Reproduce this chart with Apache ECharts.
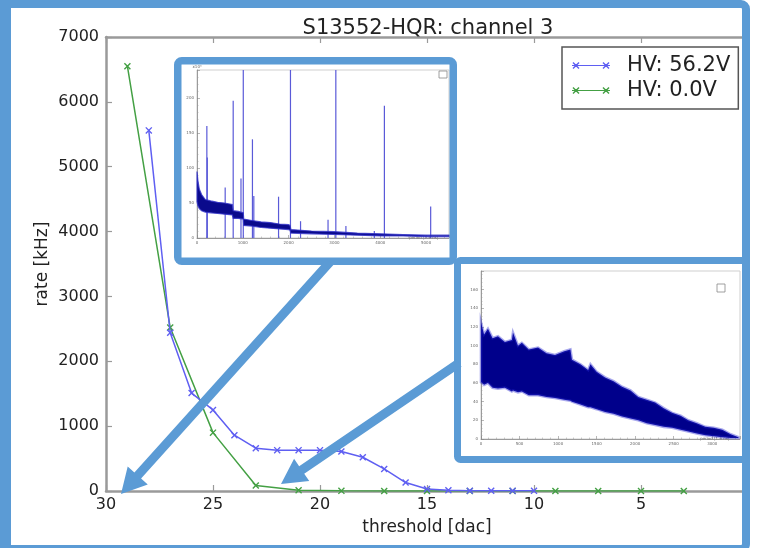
<!DOCTYPE html>
<html>
<head>
<meta charset="utf-8">
<script src="https://cdn.jsdelivr.net/npm/echarts@6/dist/echarts.min.js"></script>
<style>
  html, body { margin: 0; padding: 0; background: #fff; }
  #chart { width: 757px; height: 548px; }
</style>
</head>
<body>
<div id="chart"></div>
<script>
// ---- Threshold scan (rate vs threshold) ----
const thresholdHV = [28, 27, 26, 25, 24, 23, 22, 21, 20, 19, 18, 17, 16, 15, 14, 13, 12, 11, 10];
const rateHV      = [5560, 2440, 1510, 1250, 860, 660, 630, 630, 630, 610, 520, 340, 130, 30, 10, 5, 3, 2, 2];
const thresholdNoHV = [29, 27, 25, 23, 21, 19, 17, 15, 13, 11, 9, 7, 5, 3];
const rateNoHV      = [6550, 2520, 900, 85, 10, 2, 1, 0, 0, 0, 0, 0, 0, 0];
const thresholdTicks = [30, 25, 20, 15, 10, 5];
const rateTicks = [0, 1000, 2000, 3000, 4000, 5000, 6000, 7000];

// ---- Period histogram, HV on (upper inset) ----
const periodA = [0, 20, 50, 100, 180, 300, 450, 600, 770, 790, 900, 1010, 1020, 1200, 1400, 1600, 1800, 2000, 2030, 2050, 2500, 3000, 3500, 4000, 4500, 5000, 5500];
const upperA  = [95, 82, 70, 62, 55, 53, 51, 50, 48, 39, 38, 36, 27, 25, 23, 22, 20, 19, 18, 12, 10, 9, 7, 6, 5, 4, 4];
const lowerA  = [52, 46, 42, 39, 37, 36, 35, 34, 33, 28, 28, 27, 18, 17, 15, 14, 13, 12, 11, 7, 6, 5, 4, 3, 3, 2, 2];
const spikePosA = [215, 225, 615, 790, 960, 1010, 1210, 1240, 1780, 2040, 2260, 2860, 3030, 3250, 3870, 4090, 5100];
const spikeTopA = [160, 115, 72, 196, 85, 260, 141, 60, 59, 260, 24, 26, 260, 17, 10, 189, 45];

// ---- Period histogram, HV off (lower inset) ----
const periodB = [0, 40, 90, 150, 220, 310, 400, 415, 480, 530, 620, 740, 850, 960, 1080, 1160, 1180, 1290, 1390, 1420, 1500, 1610, 1720, 1830, 1940, 2040, 2150, 2260, 2370, 2480, 2590, 2690, 2800, 2910, 3020, 3130, 3240, 3340];
const upperB  = [125, 112, 118, 108, 110, 104, 106, 114, 100, 103, 96, 98, 92, 90, 94, 96, 85, 80, 74, 80, 72, 66, 62, 56, 52, 45, 42, 39, 33, 28, 25, 20, 17, 13, 12, 10, 5, 2];
const lowerB  = [61, 58, 60, 55, 54, 55, 51, 52, 50, 51, 47, 47, 45, 44, 42, 41, 40, 37, 34, 34, 32, 29, 27, 24, 22, 20, 17, 15, 13, 12, 10, 8, 6, 4, 3, 2, 1, 1];

const FONT = 'DejaVu Sans';
const FRAME = '#5b9bd5';
const BLUE = '#5f5ff2';
const GREEN = '#44a044';
const CROSS = 'path://M0,1.4L1.4,0L10,8.6L8.6,10ZM0,8.6L8.6,0L10,1.4L1.4,10Z';
const LEGEND_ICON = 'path://M0,4.4H38V5.6H0Z' +
  'M0.5,2.5L1.5,1.5L7.5,7.5L6.5,8.5Z M0.5,7.5L6.5,1.5L7.5,2.5L1.5,8.5Z' +
  'M30.5,2.5L31.5,1.5L37.5,7.5L36.5,8.5Z M30.5,7.5L36.5,1.5L37.5,2.5L31.5,8.5Z';

const zip = (a, b) => a.map((v, i) => [v, b[i]]);
const plain = v => String(v);

// filled band between an upper and a lower envelope, drawn in the series' own axes
function bandRenderer(xs, hi, lo, fill, stroke, strokeWidth) {
  return function (params, api) {
    if (params.dataIndex !== 0) return;
    const pts = [];
    for (let i = 0; i < xs.length; i++) pts.push(api.coord([xs[i], hi[i]]));
    for (let i = xs.length - 1; i >= 0; i--) pts.push(api.coord([xs[i], lo[i]]));
    return { type: 'polygon', shape: { points: pts }, style: { fill: fill, stroke: stroke, lineWidth: strokeWidth } };
  };
}

function arrowPoints(x1, y1, x2, y2, shaft, headLen, headW) {
  const dx = x2 - x1, dy = y2 - y1, L = Math.hypot(dx, dy);
  const ux = dx / L, uy = dy / L, nx = -uy, ny = ux;
  const bx = x2 - ux * headLen, by = y2 - uy * headLen;
  return [
    [x1 + nx * shaft / 2, y1 + ny * shaft / 2],
    [bx + nx * shaft / 2, by + ny * shaft / 2],
    [bx + nx * headW / 2, by + ny * headW / 2],
    [x2, y2],
    [bx - nx * headW / 2, by - ny * headW / 2],
    [bx - nx * shaft / 2, by - ny * shaft / 2],
    [x1 - nx * shaft / 2, y1 - ny * shaft / 2]
  ];
}

const mainAxisLine = { show: true, onZero: false, lineStyle: { color: '#9a9a9a', width: 2.5 } };
const mainTick = { show: true, inside: true, length: 6, lineStyle: { color: '#9a9a9a', width: 1.2 } };
const tinyLabel = { fontSize: 4, color: '#666', fontFamily: FONT, margin: 3, formatter: plain };
const tinyLine = { show: true, onZero: false, lineStyle: { color: '#888', width: 0.8 } };
const tinyTick = { show: true, inside: true, length: 3, lineStyle: { color: '#888', width: 0.6 } };
const tinyMinor = { show: true, splitNumber: 5, length: 1.5, lineStyle: { color: '#999', width: 0.5 } };

const chart = echarts.init(document.getElementById('chart'), null, { renderer: 'canvas' });

const option = {
  backgroundColor: '#ffffff',
  animation: false,
  title: {
    text: 'S13552-HQR: channel 3',
    left: 423, top: 13, textAlign: 'center',
    textStyle: { fontFamily: FONT, fontSize: 21, fontWeight: 'normal', color: '#222' }
  },
  legend: {
    left: 562, top: 47, orient: 'vertical',
    padding: [8, 8, 8, 10], itemGap: 4,
    itemWidth: 38, itemHeight: 10,
    borderColor: '#555', borderWidth: 1.5, backgroundColor: '#fff',
    icon: LEGEND_ICON,
    textStyle: { fontFamily: FONT, fontSize: 21, color: '#222', padding: [0, 0, 0, 12] },
    data: ['HV: 56.2V', 'HV: 0.0V']
  },
  grid: [
    { left: 106, top: 37, right: 9, bottom: 57 },
    { left: 197, top: 70, right: 308, bottom: 310, show: true, borderColor: '#cfcfcf', borderWidth: 1 },
    { left: 481, top: 271, right: 17, bottom: 109, show: true, borderColor: '#cfcfcf', borderWidth: 1 }
  ],
  xAxis: [
    {
      gridIndex: 0, type: 'value', position: 'bottom', inverse: true,
      min: 0, max: thresholdTicks[0], interval: thresholdTicks[0] - thresholdTicks[1],
      name: 'threshold [dac]', nameLocation: 'middle', nameGap: 28,
      nameTextStyle: { fontFamily: FONT, fontSize: 17, color: '#222' },
      axisLine: mainAxisLine, axisTick: mainTick, splitLine: { show: false },
      axisLabel: { fontFamily: FONT, fontSize: 16, color: '#222', margin: 6, showMinLabel: false, formatter: plain }
    },
    {
      gridIndex: 0, type: 'value', position: 'top', inverse: true,
      min: 0, max: thresholdTicks[0], interval: thresholdTicks[0] - thresholdTicks[1],
      axisLine: mainAxisLine, axisTick: mainTick, splitLine: { show: false },
      axisLabel: { show: false }
    },
    {
      gridIndex: 1, type: 'value', min: 0, max: 5500, interval: 1000,
      name: 'period [1.6 ns]', nameLocation: 'end', nameGap: -40,
      nameTextStyle: { fontSize: 4, color: '#666', fontFamily: FONT, padding: [12, 0, 0, 0] },
      axisLine: tinyLine, axisTick: tinyTick, minorTick: tinyMinor,
      splitLine: { show: false }, axisLabel: Object.assign({ showMaxLabel: false }, tinyLabel)
    },
    {
      gridIndex: 2, type: 'value', min: 0, max: 3360, interval: 500,
      name: 'period [1.6 ns]', nameLocation: 'end', nameGap: -40,
      nameTextStyle: { fontSize: 4, color: '#666', fontFamily: FONT, padding: [12, 0, 0, 0] },
      axisLine: tinyLine, axisTick: tinyTick, minorTick: tinyMinor,
      splitLine: { show: false }, axisLabel: Object.assign({ showMaxLabel: false }, tinyLabel)
    }
  ],
  yAxis: [
    {
      gridIndex: 0, type: 'value', min: rateTicks[0], max: rateTicks[rateTicks.length - 1],
      interval: rateTicks[1] - rateTicks[0],
      name: 'rate [kHz]', nameLocation: 'middle', nameGap: 55, nameMoveOverlap: false,
      nameTextStyle: { fontFamily: FONT, fontSize: 17, color: '#222' },
      axisLine: mainAxisLine, axisTick: mainTick, splitLine: { show: false },
      axisLabel: { fontFamily: FONT, fontSize: 16, color: '#222', margin: 7, formatter: plain }
    },
    {
      gridIndex: 1, type: 'value', min: 0, max: 240, interval: 50,
      name: 'x10³', nameLocation: 'end', nameGap: 1,
      nameTextStyle: { fontSize: 4, color: '#666', fontFamily: FONT },
      axisLine: tinyLine, axisTick: tinyTick, minorTick: tinyMinor,
      splitLine: { show: false }, axisLabel: Object.assign({ showMaxLabel: false }, tinyLabel)
    },
    {
      gridIndex: 2, type: 'value', min: 0, max: 180, interval: 20,
      axisLine: tinyLine, axisTick: tinyTick, minorTick: tinyMinor,
      splitLine: { show: false }, axisLabel: Object.assign({ showMaxLabel: false }, tinyLabel)
    }
  ],
  series: [
    {
      name: 'HV: 56.2V', type: 'line', xAxisIndex: 0, yAxisIndex: 0,
      data: zip(thresholdHV, rateHV),
      symbol: CROSS, symbolSize: 7,
      lineStyle: { color: BLUE, width: 1.5 }, itemStyle: { color: BLUE },
      z: 3
    },
    {
      name: 'HV: 0.0V', type: 'line', xAxisIndex: 0, yAxisIndex: 0,
      data: zip(thresholdNoHV, rateNoHV),
      symbol: CROSS, symbolSize: 7,
      lineStyle: { color: GREEN, width: 1.5 }, itemStyle: { color: GREEN },
      z: 2
    },
    {
      type: 'custom', xAxisIndex: 2, yAxisIndex: 1,
      data: [[periodA[0], lowerA[0]]],
      renderItem: bandRenderer(periodA, upperA, lowerA, '#0a0a8c', 'rgba(50,50,200,0.8)', 1.2),
      silent: true, z: 3
    },
    {
      type: 'bar', xAxisIndex: 2, yAxisIndex: 1,
      data: zip(spikePosA, spikeTopA),
      barWidth: 1.2, itemStyle: { color: '#5a5ad8' },
      silent: true, z: 2
    },
    {
      type: 'custom', xAxisIndex: 3, yAxisIndex: 2,
      data: [[periodB[0], lowerB[0]]],
      renderItem: bandRenderer(periodB, upperB, lowerB, '#00008b', 'rgba(40,40,210,0.4)', 2.6),
      silent: true, z: 3
    }
  ],
  graphic: {
    elements: [
      // outer frame
      { type: 'rect', z: 100, shape: { x: 4, y: 4, width: 742, height: 545, r: 5 },
        style: { fill: null, stroke: FRAME, lineWidth: 8 } },
      { type: 'rect', z: 100, shape: { x: 0, y: 0, width: 11, height: 548 },
        style: { fill: FRAME } },
      // inset frames
      { type: 'rect', z: 100, shape: { x: 177.75, y: 60.75, width: 275.5, height: 200.5, r: 4 },
        style: { fill: null, stroke: FRAME, lineWidth: 7.5 } },
      { type: 'rect', z: 100, shape: { x: 457.5, y: 260.5, width: 288, height: 199, r: 3 },
        style: { fill: null, stroke: FRAME, lineWidth: 7 } },
      // small empty stat boxes inside the insets
      { type: 'rect', z: 20, shape: { x: 439, y: 71, width: 8, height: 7 },
        style: { fill: '#fff', stroke: '#888', lineWidth: 0.8 } },
      { type: 'rect', z: 20, shape: { x: 717, y: 284, width: 8, height: 8 },
        style: { fill: '#fff', stroke: '#888', lineWidth: 0.8 } },
      // arrows
      { type: 'polygon', z: 110, shape: { points: arrowPoints(330, 262, 121, 494, 9, 25, 27) },
        style: { fill: FRAME } },
      { type: 'polygon', z: 110, shape: { points: arrowPoints(459, 363, 281, 484, 9, 25, 27) },
        style: { fill: FRAME } }
    ]
  }
};

chart.setOption(option);
</script>
</body>
</html>
